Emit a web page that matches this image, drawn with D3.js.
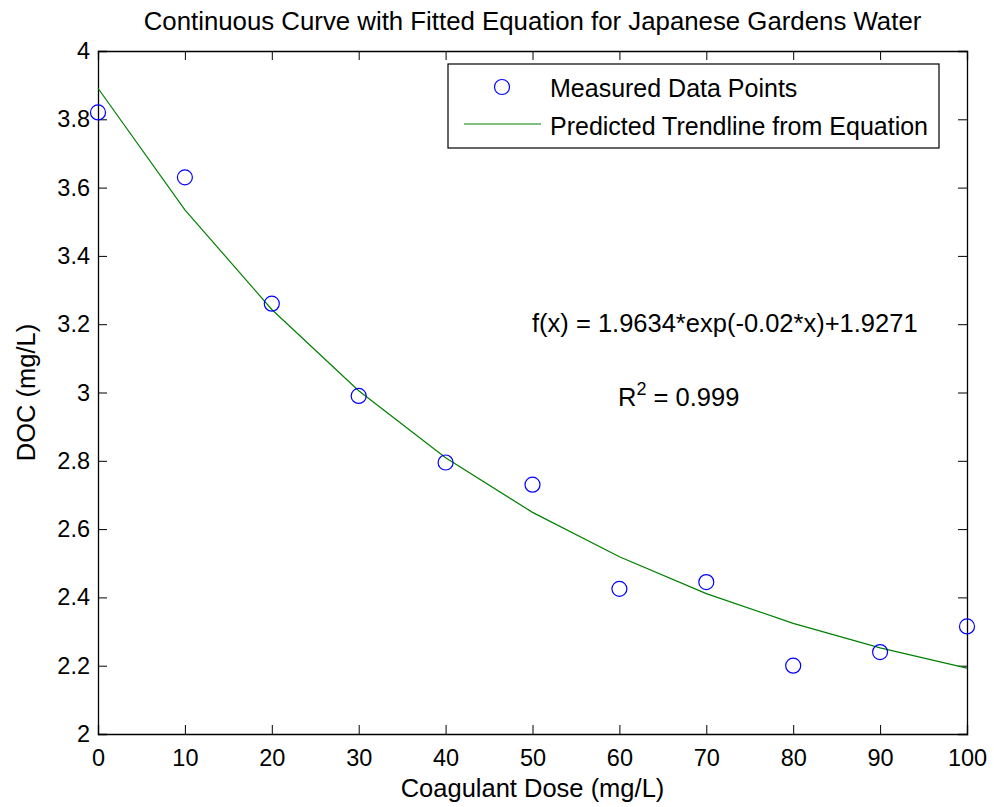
<!DOCTYPE html>
<html>
<head>
<meta charset="utf-8">
<script src="https://cdn.jsdelivr.net/npm/d3@7"></script>
<style>
  body { margin: 0; background: #fff; }
  text { font-family: "Liberation Sans", Arial, sans-serif; fill: #000; }
</style>
</head>
<body>
<svg id="chart" width="994" height="807"></svg>
<script>
// Measured and predicted DOC vs coagulant dose
const doses = [0, 10, 20, 30, 40, 50, 60, 70, 80, 90, 100];
const measured = [3.82, 3.63, 3.26, 2.99, 2.795, 2.73, 2.425, 2.445, 2.2, 2.24, 2.315];
const predicted = [3.891, 3.535, 3.243, 3.005, 2.809, 2.649, 2.519, 2.411, 2.324, 2.252, 2.193];
const xTicks = [0, 10, 20, 30, 40, 50, 60, 70, 80, 90, 100];
const yTicks = [2, 2.2, 2.4, 2.6, 2.8, 3, 3.2, 3.4, 3.6, 3.8, 4];

const margin = { top: 51, right: 27, bottom: 73, left: 98 };
const width = 994;
const height = 807;
const tickFont = 23.5;
const labelFont = 25.5;
const tickLen = 9;

const svg = d3.select("#chart");
const x = d3.scaleLinear().domain([0, 100]).range([margin.left, width - margin.right]);
const y = d3.scaleLinear().domain([2, 4]).range([height - margin.bottom, margin.top]);

const fmt = d => String(+d.toFixed(1));

// Axes with inward ticks on all four sides
svg.append("g")
  .attr("transform", `translate(0,${y(2)})`)
  .call(d3.axisBottom(x).tickValues(xTicks).tickSize(-tickLen).tickPadding(15).tickFormat(fmt));
svg.append("g")
  .attr("transform", `translate(${x(0)},0)`)
  .call(d3.axisLeft(y).tickValues(yTicks).tickSize(-tickLen).tickPadding(8).tickFormat(fmt));
svg.append("g")
  .attr("transform", `translate(0,${y(4)})`)
  .call(d3.axisTop(x).tickValues(xTicks).tickSize(-tickLen).tickFormat(""));
svg.append("g")
  .attr("transform", `translate(${x(100)},0)`)
  .call(d3.axisRight(y).tickValues(yTicks).tickSize(-tickLen).tickFormat(""));

svg.selectAll(".domain").attr("stroke", "#000").attr("stroke-width", 1.3);
svg.selectAll(".tick line").attr("stroke", "#000");
svg.selectAll(".tick text")
  .style("font-family", "'Liberation Sans', Arial, sans-serif")
  .style("font-size", tickFont + "px")
  .attr("fill", "#000");

// Trendline
svg.append("path")
  .datum(doses.map((d, i) => [d, predicted[i]]))
  .attr("fill", "none")
  .attr("stroke", "#008000")
  .attr("stroke-width", 1.2)
  .attr("d", d3.line().x(d => x(d[0])).y(d => y(d[1])));

// Measured points
svg.append("g")
  .selectAll("circle")
  .data(doses.map((d, i) => [d, measured[i]]))
  .join("circle")
  .attr("cx", d => x(d[0]))
  .attr("cy", d => y(d[1]))
  .attr("r", 7.5)
  .attr("fill", "none")
  .attr("stroke", "#0000ff")
  .attr("stroke-width", 1.2);

// Title and labels
svg.append("text")
  .attr("x", (x(0) + x(100)) / 2)
  .attr("y", 30)
  .attr("text-anchor", "middle")
  .style("font-size", "25.8px")
  .text("Continuous Curve with Fitted Equation for Japanese Gardens Water");

svg.append("text")
  .attr("x", (x(0) + x(100)) / 2)
  .attr("y", 797)
  .attr("text-anchor", "middle")
  .style("font-size", labelFont + "px")
  .text("Coagulant Dose (mg/L)");

svg.append("text")
  .attr("transform", `translate(35,${(y(2) + y(4)) / 2}) rotate(-90)`)
  .attr("text-anchor", "middle")
  .style("font-size", labelFont + "px")
  .text("DOC (mg/L)");

// Fit annotations
svg.append("text")
  .attr("x", 532)
  .attr("y", 332)
  .style("font-size", labelFont + "px")
  .text("f(x) = 1.9634*exp(-0.02*x)+1.9271");

const r2 = svg.append("text")
  .attr("x", 618)
  .attr("y", 406)
  .style("font-size", labelFont + "px");
r2.append("tspan").text("R");
r2.append("tspan").attr("dy", -11).style("font-size", "18px").text("2");
r2.append("tspan").attr("dy", 11).text(" = 0.999");

// Legend
const legend = svg.append("g");
legend.append("rect")
  .attr("x", 448).attr("y", 64)
  .attr("width", 491).attr("height", 84)
  .attr("fill", "#fff")
  .attr("stroke", "#000")
  .attr("stroke-width", 1.2);
legend.append("circle")
  .attr("cx", 502).attr("cy", 87).attr("r", 7.5)
  .attr("fill", "none").attr("stroke", "#0000ff").attr("stroke-width", 1.2);
legend.append("line")
  .attr("x1", 464).attr("x2", 541).attr("y1", 124).attr("y2", 124)
  .attr("stroke", "#008000").attr("stroke-width", 1.2);
legend.append("text")
  .attr("x", 550).attr("y", 97)
  .style("font-size", "25px")
  .text("Measured Data Points");
legend.append("text")
  .attr("x", 550).attr("y", 135)
  .style("font-size", "25px")
  .text("Predicted Trendline from Equation");
</script>
</body>
</html>
